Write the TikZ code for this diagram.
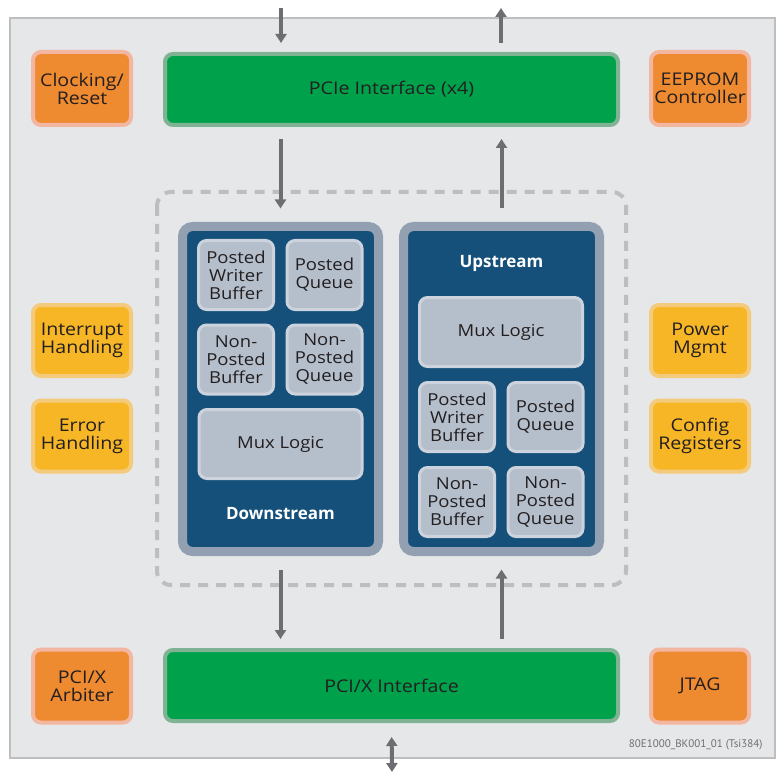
\documentclass[tikz,border=0pt]{standalone}
\usepackage{fontspec}
\setmainfont{Open Sans}
\newfontfamily\widefont[FakeStretch=1.12]{Open Sans}
\newfontfamily\tagfont{PT Sans}
\usetikzlibrary{arrows.meta, positioning}

\definecolor{panel}{HTML}{E6E7E8}
\definecolor{paneledge}{HTML}{BCBEC0}
\definecolor{busgreen}{HTML}{00A14B}
\definecolor{busedge}{HTML}{80B394}
\definecolor{orng}{HTML}{EE8A2F}
\definecolor{orngedge}{HTML}{F3B6A0}
\definecolor{yel}{HTML}{F6B626}
\definecolor{yeledge}{HTML}{F4CA7C}
\definecolor{navy}{HTML}{14507A}
\definecolor{laneedge}{HTML}{93A0B2}
\definecolor{blk}{HTML}{B5BECB}
\definecolor{blkedge}{HTML}{CDD3DD}
\definecolor{flowgray}{HTML}{6D6E71}
\definecolor{txt}{HTML}{231F20}

\tikzset{
  sidebox/.style={rounded corners=8pt, line width=4pt, minimum width=98pt,
    minimum height=73pt, align=center, text=txt, inner sep=0pt,
    font=\widefont\fontsize{17.5}{18}\selectfont},
  orangebox/.style={sidebox, fill=orng, draw=orngedge},
  yellowbox/.style={sidebox, fill=yel, draw=yeledge, minimum height=71pt},
  bus/.style={sidebox, fill=busgreen, draw=busedge, minimum width=453pt, minimum height=71pt},
  lane/.style={rounded corners=10pt, line width=9pt, fill=navy, draw=laneedge,
    minimum width=196pt, minimum height=325pt},
  blkbox/.style={rounded corners=8pt, line width=3pt, fill=blk, draw=blkedge,
    minimum width=75pt, minimum height=69pt, align=center, text=txt, inner sep=0pt,
    font=\widefont\fontsize{16.5}{18}\selectfont},
  widebox/.style={blkbox, minimum width=163pt},
  lanetitle/.style={text=white, font=\fontsize{17}{18}\selectfont\bfseries},
  flow/.style={draw=flowgray, line width=4pt, -{Triangle[width=11pt,length=9pt]}},
  region/.style={draw=paneledge, line width=4pt, dash pattern=on 10pt off 8pt, rounded corners=14pt}
}

\begin{document}
\begin{tikzpicture}[x=1pt, y=-1pt]
  \useasboundingbox (0,0) rectangle (783,775);
  % chip outline
  \draw[fill=panel, draw=paneledge, line width=1.5pt] (10,18) rectangle (775,758);
  \draw[region] (157,192) rectangle (626,585);

  % side blocks
  \node[orangebox] (clk) at (82,88.5) {Clocking/\\Reset};
  \node[orangebox] (eeprom) at (700,88.5) {EEPROM\\Controller};
  \node[yellowbox] (intr) at (82,340.5) {Interrupt\\Handling};
  \node[yellowbox] (err) at (82,436) {Error\\Handling};
  \node[yellowbox] (pwr) at (700,340.5) {Power\\Mgmt};
  \node[yellowbox] (cfg) at (700,436) {Config\\Registers};
  \node[orangebox] (arb) at (82,686) {PCI/X\\Arbiter};
  \node[orangebox] (jtag) at (700,686) {JTAG};

  % interfaces
  \node[bus] (pcie) at (391.5,89.5) {PCIe Interface (x4)};
  \node[bus] (pcix) at (391.5,685.5) {PCI/X Interface};

  % downstream lane
  \node[lane] (dn) at (280.5,389) {};
  \node[blkbox] (dnpwb) at (236,275) {Posted\\Writer\\Buffer};
  \node[blkbox] (dnpq) at (324.5,275) {Posted\\Queue};
  \node[blkbox] (dnnpb) at (236,359.5) {Non-\\Posted\\Buffer};
  \node[blkbox] (dnnpq) at (324.5,359.5) {Non-\\Posted\\Queue};
  \node[widebox] (dnmux) at (280.5,444) {Mux Logic};
  \node[lanetitle] (dnlbl) at (280.5,514) {Downstream};

  % upstream lane
  \node[lane] (up) at (501.5,389) {};
  \node[lanetitle] (uplbl) at (501.5,263) {Upstream};
  \node[widebox] (upmux) at (501,332) {Mux Logic};
  \node[blkbox] (uppwb) at (457,417) {Posted\\Writer\\Buffer};
  \node[blkbox] (uppq) at (545.5,417) {Posted\\Queue};
  \node[blkbox] (upnpb) at (457,502) {Non-\\Posted\\Buffer};
  \node[blkbox] (upnpq) at (545.5,502) {Non-\\Posted\\Queue};

  \node[anchor=east, text=flowgray, font=\tagfont\fontsize{11}{12}\selectfont] (tag) at (766,745) {80E1000\_BK001\_01 (Tsi384)};

  % flows
  \coordinate (pcein) at (281,8);
  \coordinate (pceout) at (501,8);
  \coordinate (pcxext) at (392,772);
  \draw[flow, shorten >=9pt] (pcein) -- (pcein |- pcie.north);
  \draw[flow, shorten <=9pt] (pceout |- pcie.north) -- (pceout);
  \draw[flow, shorten <=12pt, shorten >=13.5pt] (pcie.south -| dn.north) -- (dn.north);
  \draw[flow, shorten <=13.5pt, shorten >=12pt] (up.north) -- (pcie.south -| up.north);
  \draw[flow, shorten <=13.5pt, shorten >=9pt] (dn.south) -- (pcix.north -| dn.south);
  \draw[flow, shorten <=9pt, shorten >=13.5pt] (pcix.north -| up.south) -- (up.south);
  \draw[flow, {Triangle[width=11pt,length=9pt]}-{Triangle[width=11pt,length=9pt]}, shorten <=14pt] (pcix.south) -- (pcxext);
\end{tikzpicture}
\end{document}
